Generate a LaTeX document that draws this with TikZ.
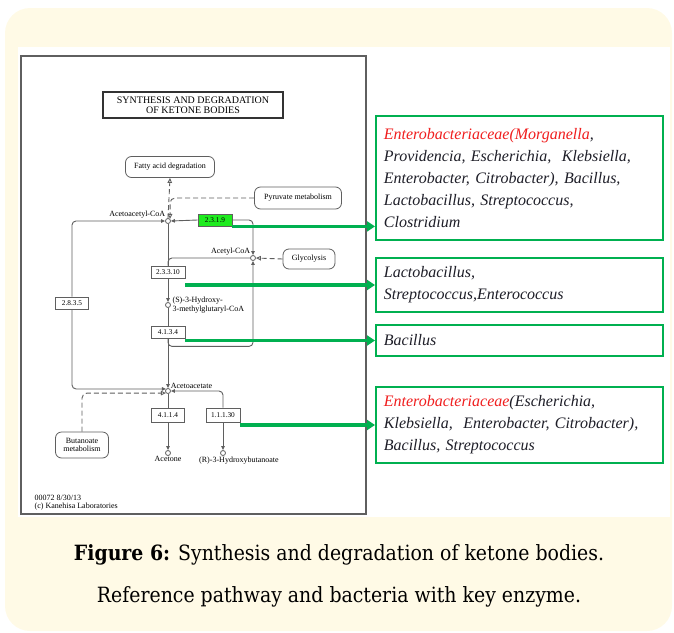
\documentclass[tikz,border=0pt]{standalone}
\usepackage{fontspec}
\setmainfont{Liberation Serif}
\newfontfamily\capfont[FakeStretch=0.9]{DejaVu Serif}
\usetikzlibrary{arrows.meta}

\definecolor{cream}{RGB}{255,250,230}
\definecolor{keggline}{RGB}{95,95,95}
\definecolor{hitgreen}{RGB}{30,235,30}
\definecolor{linkgreen}{RGB}{0,176,80}
\definecolor{genusred}{RGB}{240,30,30}
\definecolor{inktext}{RGB}{30,30,40}

\begin{document}
\begin{tikzpicture}[x=1pt, y=-1pt,
    every node/.style={anchor=center},
    compound/.style={circle, draw=keggline, fill=white, line width=0.8pt, minimum size=5pt, inner sep=0pt},
    enzyme/.style={draw=keggline, fill=white, line width=0.8pt, font=\fontsize{7.3}{8}\selectfont, inner sep=0pt, minimum width=34pt, minimum height=12pt},
    mapbox/.style={draw=keggline, fill=white, rounded corners=6pt, line width=0.8pt, font=\fontsize{8}{8.5}\selectfont, align=center, inner sep=0pt},
    lbl/.style={font=\fontsize{8}{8.5}\selectfont, inner sep=0.5pt},
    rxn/.style={draw=keggline, line width=0.9pt, rounded corners=4pt},
    rxnarrow/.style={-{Triangle[length=4pt,width=3.5pt]}},
    maplink/.style={draw=keggline, line width=0.9pt, dash pattern=on 5pt off 3pt, rounded corners=5pt, -{Triangle[open,length=5pt,width=4.5pt]}},
    bacteria/.style={draw=linkgreen, line width=1.8pt, anchor=west, minimum width=287pt, text width=271pt, inner xsep=8pt, align=left, text=inktext, font=\fontsize{16}{22}\selectfont\itshape},
    greenarrow/.style={draw=linkgreen, line width=3.2pt, -{Triangle[length=8pt,width=10pt]}},
    caption/.style={font=\capfont\fontsize{21}{22}\selectfont}
    ]

% Background and frames
\useasboundingbox (0,0) rectangle (674,632);
\fill[cream, rounded corners=25pt] (5,8) rectangle (672,631);
\fill[white] (18,47) rectangle (670,517);
\draw[keggline, line width=1.2pt] (21,56) rectangle (366,514);

\node[draw=black!80, line width=1.5pt, minimum width=180pt, minimum height=26pt, align=center, inner sep=0pt, font=\fontsize{10}{10}\selectfont] (title) at (193,105) {SYNTHESIS AND DEGRADATION\\OF KETONE BODIES};

% Maps
\node[mapbox, minimum width=89pt, minimum height=21pt] (fattyacid) at (170,167) {Fatty acid degradation};
\node[mapbox, minimum width=87pt, minimum height=22pt] (pyruvate) at (298,198) {Pyruvate metabolism};
\node[mapbox, minimum width=52pt, minimum height=20pt] (glycolysis) at (309,259) {Glycolysis};
\node[mapbox, minimum width=53pt, minimum height=26pt] (butanoate) at (82,445) {Butanoate\\metabolism};

% Compounds
\node[compound] (aacoa) at (168,221) {};
\node[lbl, anchor=south east] at (aacoa.north west) {Acetoacetyl-CoA};
\node[compound] (acoa) at (253,258) {};
\node[lbl, anchor=south east] at (acoa.north west) {Acetyl-CoA};
\node[compound] (hmg) at (168,305) {};
\node[lbl, anchor=west, align=left] at ([xshift=1pt]hmg.east) {(S)-3-Hydroxy-\\3-methylglutaryl-CoA};
\node[compound] (aac) at (168,391) {};
\node[lbl, anchor=south west] at (aac.north east) {Acetoacetate};
\node[compound] (acetone) at (168,453) {};
\node[lbl, anchor=north] at (acetone.south) {Acetone};
\node[compound] (bhb) at (223,453) {};
\node[lbl, anchor=north] at ([xshift=16pt]bhb.south) {(R)-3-Hydroxybutanoate};

% Enzymes
\node[enzyme, fill=hitgreen] (e2319) at (215,220) {2.3.1.9};
\node[enzyme] (e23310) at (168,272) {2.3.3.10};
\node[enzyme] (e4134) at (168,332) {4.1.3.4};
\node[enzyme, minimum width=33pt] (e2835) at (72,303) {2.8.3.5};
\node[enzyme, minimum width=33pt, minimum height=14pt] (e4114) at (168,415) {4.1.1.4};
\node[enzyme, minimum height=14pt] (e11130) at (223,415) {1.1.1.30};

\node[lbl, anchor=south west, align=left] (footer) at (34,511) {00072 8/30/13\\(c) Kanehisa Laboratories};

% Reactions
\draw[rxn, rxnarrow] (e2319.west) -- (aacoa.east);
\draw[rxn, rxnarrow] (e2319.east) -| (acoa.north);
\draw[rxn] (aacoa.south) -- (e23310.north);
\draw[rxn] (acoa.west) -| (e23310.north);
\draw[rxn, rxnarrow] (e23310.south) -- (hmg.north);
\draw[rxn] (hmg.south) -- (e4134.north);
\draw[rxn, rxnarrow] (e4134.south) -- (aac.north);
\draw[rxn, rxnarrow] (e4134.south) -- ++(0,8) -| (acoa.south);
\draw[rxn, rxnarrow] (e2835.north) |- (aacoa.west);
\draw[rxn, rxnarrow] (e2835.south) |- (aac.north west);
\draw[rxn] (aac.south) -- (e4114.north);
\draw[rxn, rxnarrow] (e4114.south) -- (acetone.north);
\draw[rxn, rxnarrow] (e11130.north) |- (aac.east);
\draw[rxn, rxnarrow] (e11130.south) -- (bhb.north);

% Links to other maps
\draw[maplink] (aacoa.north) -- (fattyacid.south);
\draw[maplink] (pyruvate.west) -| (aacoa.north east);
\draw[maplink] (glycolysis.west) -- (acoa.east);
\draw[maplink] (butanoate.north) |- (aac.south west);

% Bacteria with key enzyme
\node[bacteria, minimum height=124pt] (bact1) at (375,178) {\textcolor{genusred}{Enterobacteriaceae(Morganella},\\ Providencia, Escherichia,\ \ Klebsiella,\\ Enterobacter, Citrobacter), Bacillus,\\ Lactobacillus, Streptococcus,\\ Clostridium};
\node[bacteria, minimum height=54pt] (bact2) at (375,285) {Lactobacillus,\\ Streptococcus,Enterococcus};
\node[bacteria, minimum height=31pt] (bact3) at (375,340.5) {Bacillus};
\node[bacteria, minimum height=76pt] (bact4) at (375,425) {\textcolor{genusred}{Enterobacteriaceae}(Escherichia,\\ Klebsiella,\ \ Enterobacter, Citrobacter),\\ Bacillus, Streptococcus};

\draw[greenarrow] (e2319.south east) -- (bact1.west |- e2319.south east);
\draw[greenarrow] (bact2.west -| e23310.east) -- (bact2.west);
\draw[greenarrow] (bact3.west -| e4134.east) -- (bact3.west);
\draw[greenarrow] (bact4.west -| e11130.east) -- (bact4.west);

% Caption
\node[caption] (cap1) at (339,555) {\textbf{Figure 6:} Synthesis and degradation of ketone bodies.};
\node[caption] (cap2) at (339,597) {Reference pathway and bacteria with key enzyme.};

\end{tikzpicture}
\end{document}
